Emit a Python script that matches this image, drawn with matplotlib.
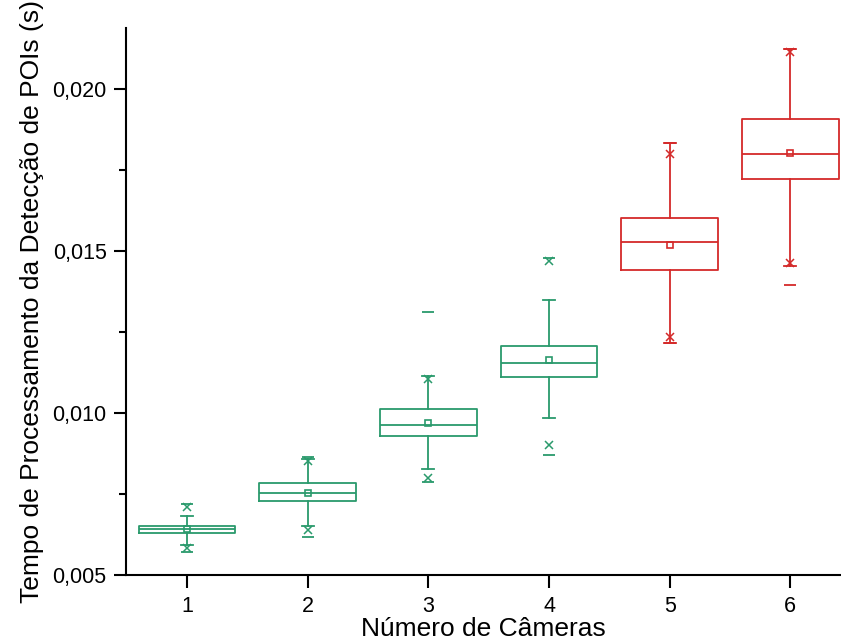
import matplotlib
matplotlib.use("Agg")
import matplotlib.pyplot as plt
from matplotlib.ticker import FixedLocator, FuncFormatter

plt.rcParams['font.family'] = ['Liberation Sans', 'DejaVu Sans']

cameras = [1, 2, 3, 4, 5, 6]
q1 = [0.006290, 0.007289, 0.009308, 0.011114, 0.014433, 0.017238]
median = [0.006413, 0.007545, 0.009630, 0.011547, 0.015299, 0.018021]
q3 = [0.006515, 0.007836, 0.010134, 0.012061, 0.016032, 0.019094]
mean = [0.006413, 0.007530, 0.009701, 0.011650, 0.015206, 0.018042]
whisker_low = [0.005928, 0.006515, 0.008269, 0.009846, 0.012166, 0.014535]
whisker_high = [0.006825, 0.008588, 0.011133, 0.013505, 0.018352, 0.021237]
p1 = [0.005826, 0.006392, 0.008009, 0.009021, 0.012352, 0.014640]
p99 = [0.007094, 0.008526, 0.011053, 0.014690, 0.018021, 0.021154]
vmin = [0.005702, 0.006185, 0.007886, 0.008711, 0.012166, 0.013969]
vmax = [0.007187, 0.008659, 0.013113, 0.014795, 0.018352, 0.021237]
colors = ['#2a9a6c', '#2a9a6c', '#2a9a6c', '#2a9a6c', '#d42a2a', '#d42a2a']
yticks = [0.005, 0.010, 0.015, 0.020]

fig = plt.figure(figsize=(8.41, 6.43), dpi=100)
ax = fig.add_axes([0.1498, 0.1058, 0.8502, 0.8507])

for i, c in enumerate(cameras):
    col = colors[i]
    stats = [dict(med=median[i], q1=q1[i], q3=q3[i], whislo=whisker_low[i],
                  whishi=whisker_high[i], fliers=[], mean=mean[i])]
    lp = dict(color=col, linewidth=1.3)
    ax.bxp(stats, positions=[c], widths=0.8, showmeans=True, meanline=False,
           showfliers=False, boxprops=lp, whiskerprops=lp, capprops=lp,
           medianprops=lp, capwidths=0.1,
           meanprops=dict(marker='s', markerfacecolor='none', markeredgecolor=col,
                          markersize=5, markeredgewidth=1.2),
           manage_ticks=False)
    ax.plot([c, c], [p1[i], p99[i]], linestyle='none', marker='x', color=col,
            markersize=6, markeredgewidth=1.1)
    ax.plot([c, c], [vmin[i], vmax[i]], linestyle='none', marker='_', color=col,
            markersize=8, markeredgewidth=1.3)

ax.set_xlim(0.494, 6.42)
ax.set_ylim(0.005, 0.0219)
ax.set_xticks(cameras)
ax.set_xticklabels([str(c) for c in cameras])
ax.yaxis.set_major_locator(FixedLocator(yticks))
ax.yaxis.set_minor_locator(FixedLocator([0.0075, 0.0125, 0.0175]))
ax.yaxis.set_major_formatter(FuncFormatter(lambda v, p: f"{v:.3f}".replace('.', ',')))
ax.spines['top'].set_visible(False)
ax.spines['right'].set_visible(False)
for s in ['left', 'bottom']:
    ax.spines[s].set_linewidth(1.5)
ax.tick_params(axis='both', which='major', direction='out', length=9, width=1.5,
               labelsize=15.5, colors='black')
ax.tick_params(axis='y', which='minor', direction='out', length=5, width=1.5)
ax.tick_params(axis='y', pad=5)
ax.tick_params(axis='x', pad=6)
ax.set_xlabel('Número de Câmeras', fontsize=19, labelpad=0)
ax.set_ylabel('Tempo de Processamento da Detecção de POIs (s)', fontsize=19, labelpad=6)

fig.savefig('out.png', dpi=100)
